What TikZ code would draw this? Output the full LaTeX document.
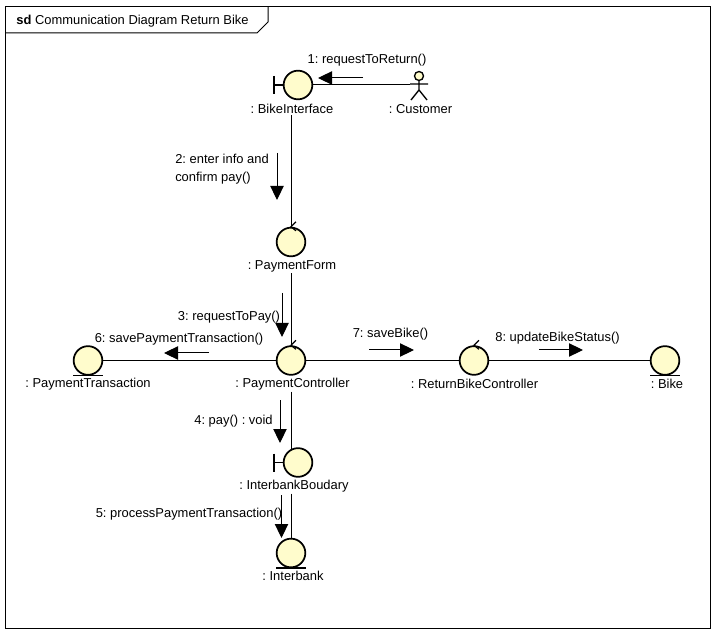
\documentclass[tikz,border=0pt]{standalone}
\usepackage{fontspec}
\setmainfont{Liberation Sans}
\usetikzlibrary{arrows.meta,backgrounds}
\frenchspacing

\begin{document}
\begin{tikzpicture}[x=.75pt, y=-.75pt]

\tikzset{
  every node/.style = {font=\fontsize{9.7}{13.5}\selectfont},
  icon/.style = {circle, draw, line width=1.3pt, fill=yellow!20!white, minimum size=21.5pt, inner sep=0pt},
  objname/.style = {fill=white, inner sep=1pt, yshift=-.75pt},
  msg/.style = {inner sep=0pt, yshift=-.75pt},
  link/.style = {line width=.75pt},
  call/.style = {line width=.75pt, -{Triangle[length=10.5pt,width=10pt]}}
}

\useasboundingbox (0,0) rectangle (717,634);

% icons
\node[icon] (bikeinterface) at (298,85) {};
\node[icon] (paymentform) at (291,242) {};
\node[icon] (paymenttransaction) at (88,360.5) {};
\node[icon] (paymentcontroller) at (291,360.5) {};
\node[icon] (returnbikecontroller) at (474,360.5) {};
\node[icon] (bike) at (665,360.5) {};
\node[icon] (interbankboudary) at (298,462.5) {};
\node[icon] (interbank) at (291,553) {};
\node[minimum width=13.5pt, inner sep=0pt] (customer) at (419,85) {};

% names
\node[objname] (nbikeinterface) at (292,108) {: BikeInterface};
\node[objname] (ncustomer) at (420.5,108) {: Customer};
\node[objname] (npaymentform) at (292,265) {: PaymentForm};
\node[objname] (npaymenttransaction) at (88,383) {: PaymentTransaction};
\node[objname] (npaymentcontroller) at (292.5,383) {: PaymentController};
\node[objname] (nreturnbikecontroller) at (474.5,383) {: ReturnBikeController};
\node[objname] (nbike) at (667,383) {: Bike};
\node[objname] (ninterbankboudary) at (294,485) {: InterbankBoudary};
\node[objname] (ninterbank) at (293,575) {: Interbank};

% messages
\node[msg] (m1) at (367,59) {1: requestToReturn()};
\node[msg, align=left, anchor=west] (m2) at (175,168) {2: enter info and\\confirm pay()};
\node[msg] (m3) at (229,316) {3: requestToPay()};
\node[msg] (m6) at (179,338) {6: savePaymentTransaction()};
\node[msg] (m7) at (390.5,333) {7: saveBike()};
\node[msg] (m8) at (557.5,337) {8: updateBikeStatus()};
\node[msg] (m4) at (233.5,420) {4: pay() : void};
\node[msg] (m5) at (189,513) {5: processPaymentTransaction()};

% frame
\node[msg] (title) at (132.5,20) {\textbf{sd} Communication Diagram Return Bike};
\begin{scope}[on background layer]
\draw[link] (5,7) rectangle (710,628);
\draw[link] (5,33) -- (257,33) -- (268,22) -- (268,7);

\draw[link] (bikeinterface) -- (customer.west);
\draw[link] (nbikeinterface.south -| paymentform) -- (paymentform);
\draw[link] (npaymentform.south -| paymentform) -- (paymentcontroller);
\draw[link] (paymenttransaction) -- (paymentcontroller);
\draw[link] (paymentcontroller) -- (returnbikecontroller);
\draw[link] (returnbikecontroller) -- (bike);
\draw[link] (npaymentcontroller.south -| paymentcontroller) -- (interbankboudary -| paymentcontroller);
\draw[link] (ninterbankboudary.south -| interbank) -- (interbank);
\end{scope}

% stereotypes
\foreach \n in {bikeinterface,interbankboudary}
  \draw[line width=1.3pt] (\n.west) -- ++(-9,0) ++(0,-9) -- ++(0,18);
\foreach \n in {paymenttransaction,bike,interbank}
  \draw[line width=1.1pt] (\n.south) ++(-15,0) -- ++(30,0);
\foreach \n in {paymentform,paymentcontroller,returnbikecontroller}
  \draw[line width=.9pt] (\n.north) ++(5,-5) -- ++(-5,5) -- ++(5,4);

% actor
\draw[line width=1pt, fill=yellow!20!white] (419,76) circle (4.5);
\draw[line width=1pt] (419,80.5) -- (419,90) -- (411,100) (419,90) -- (427,100) (410,84) -- (428,84);

% message arrows
\coordinate (a1s) at (363,78); \coordinate (a1e) at (318,78);
\coordinate (a2s) at (277,153); \coordinate (a2e) at (277,200);
\coordinate (a3s) at (282,293); \coordinate (a3e) at (282,337);
\coordinate (a6s) at (209,353); \coordinate (a6e) at (164,353);
\coordinate (a7s) at (369,350); \coordinate (a7e) at (414,350);
\coordinate (a8s) at (539,350); \coordinate (a8e) at (583,350);
\coordinate (a4s) at (280,400); \coordinate (a4e) at (280,443);
\coordinate (a5s) at (281.5,495); \coordinate (a5e) at (281.5,538);
\foreach \i in {1,2,3,4,5,6,7,8}
  \draw[call] (a\i s) -- (a\i e);

\end{tikzpicture}
\end{document}
